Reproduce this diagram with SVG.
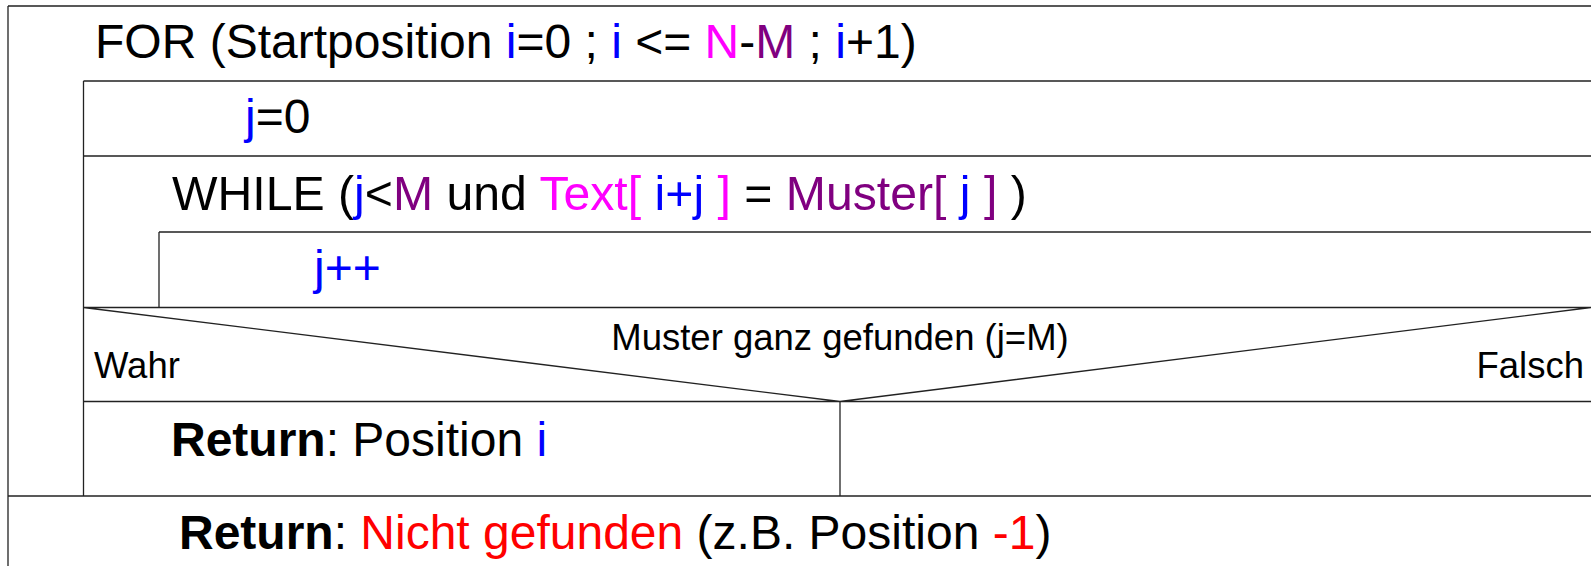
<svg xmlns="http://www.w3.org/2000/svg" width="1591" height="566" viewBox="0 0 1591 566">
<style>
.ln{stroke:#222;stroke-width:1.3;fill:none}
.t{font-family:"Liberation Sans",Arial,sans-serif;font-size:48px;fill:#000}
.s{font-family:"Liberation Sans",Arial,sans-serif;font-size:36.5px;fill:#000}
.b{fill:#0000ff}
.m{fill:#ff00ff}
.p{fill:#800080}
.r{fill:#ff0000}
.bold{font-weight:bold}
</style>
<rect width="1591" height="566" fill="#fff"/>
<g id="for-loop">
<path class="ln" d="M8,6 H1591 M8,6 V566"/>
<text class="t" x="95" y="58">FOR (Startposition <tspan class="b">i</tspan>=0 ; <tspan class="b">i</tspan> &lt;= <tspan class="m">N</tspan>-<tspan class="p">M</tspan> ; <tspan class="b">i</tspan>+1)</text>
</g>
<g id="init-j">
<path class="ln" d="M83.5,81 H1591 M83.5,81 V496 M83.5,156 H1591"/>
<text class="t" x="245" y="133"><tspan class="b">j</tspan>=0</text>
</g>
<g id="while-loop">
<text class="t" x="172" y="210" style="font-size:48.2px">WHILE (<tspan class="b">j</tspan>&lt;<tspan class="p">M</tspan> und <tspan class="m">Text[ </tspan><tspan class="b">i+j</tspan><tspan class="m"> ]</tspan> = <tspan class="p">Muster[ </tspan><tspan class="b">j</tspan><tspan class="p"> ]</tspan> )</text>
</g>
<g id="increment-j">
<path class="ln" d="M159,232 H1591 M159,232 V307.5"/>
<text class="t b" x="314" y="284">j++</text>
</g>
<g id="decision">
<path class="ln" d="M83.5,307.5 H1591 M83.5,307.5 L840,401.5 L1591,307.5 M83.5,401.5 H1591"/>
<text class="s" x="840" y="350" text-anchor="middle">Muster ganz gefunden (j=M)</text>
<text class="s" x="94" y="378">Wahr</text>
<text class="s" x="1584" y="378" text-anchor="end">Falsch</text>
</g>
<g id="return-found">
<path class="ln" d="M840,401.5 V496"/>
<text class="t" x="171" y="456"><tspan class="bold">Return</tspan>: Position <tspan class="b">i</tspan></text>
</g>
<g id="return-not-found">
<path class="ln" d="M8,496 H1591"/>
<text class="t" x="179" y="549"><tspan class="bold">Return</tspan>: <tspan class="r">Nicht gefunden</tspan> (z.B. Position <tspan class="r">-1</tspan>)</text>
</g>
<g id="connectors"></g>
</svg>
